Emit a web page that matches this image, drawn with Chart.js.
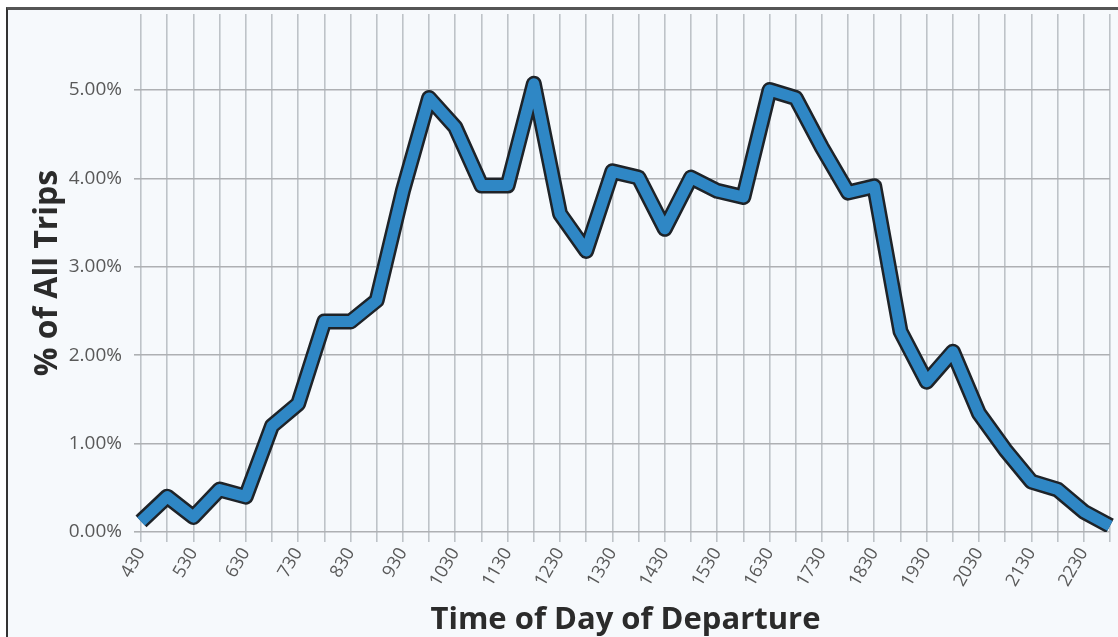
<!DOCTYPE html>
<html>
<head>
<meta charset="utf-8">
<script src="https://cdn.jsdelivr.net/npm/chart.js@4/dist/chart.umd.min.js"></script>
<style>
  html, body { margin: 0; padding: 0; background: #fff; overflow: hidden; width: 1118px; height: 637px; }
  #frame { position: absolute; left: 6px; top: 7px; width: 1200px; height: 700px;
           border-left: 2px solid #333; border-top: 3px solid #555; background: #F6F9FC; }
  #wrap { position: absolute; left: 0; top: 0; width: 1118px; height: 660px; }
</style>
</head>
<body>
<div id="frame"></div>
<div id="wrap"><canvas id="tripsChart" width="1118" height="660"></canvas></div>
<script>
/* === DATA === */
const times = ['430','500','530','600','630','700','730','800','830','900','930','1000','1030','1100',
  '1130','1200','1230','1300','1330','1400','1430','1500','1530','1600','1630','1700','1730','1800',
  '1830','1900','1930','2000','2030','2100','2130','2200','2230','2300'];
const tripShare = [0.12, 0.40, 0.17, 0.48, 0.40, 1.20, 1.45, 2.38, 2.38, 2.62, 3.86, 4.91, 4.58, 3.92,
  3.92, 5.07, 3.60, 3.18, 4.08, 4.01, 3.43, 4.01, 3.86, 3.79, 5.00, 4.91, 4.35, 3.84,
  3.91, 2.27, 1.70, 2.04, 1.34, 0.93, 0.57, 0.48, 0.23, 0.07];
const yTicks = [0, 1, 2, 3, 4, 5];

initChart();

function initChart() {
    const ctx = document.getElementById('tripsChart');
    new Chart(ctx, {
        type: 'line',
        data: {
            labels: times,
            datasets: [{
                // blue line on top
                data: tripShare,
                borderColor: '#2F87C5',
                borderWidth: 11,
                pointRadius: 0,
                tension: 0,
                borderJoinStyle: 'round',
                borderCapStyle: 'butt',
                order: 0
            }, {
                // dark outline behind
                data: tripShare,
                borderColor: '#1E2328',
                borderWidth: 16,
                pointRadius: 0,
                tension: 0,
                borderJoinStyle: 'round',
                borderCapStyle: 'butt',
                order: 1
            }]
        },
        options: {
            responsive: false,
            animation: false,
            devicePixelRatio: 1,
            layout: { padding: { top: 14, right: 8, bottom: 0, left: 0 } },
            plugins: { legend: { display: false }, tooltip: { enabled: false } },
            scales: {
                x: {
                    offset: false,
                    grid: { color: '#BEC3C8', lineWidth: 1.6, tickLength: 10, drawTicks: true },
                    border: { display: false },
                    ticks: {
                        autoSkip: false,
                        maxRotation: 60,
                        minRotation: 60,
                        padding: 2,
                        color: '#595959',
                        font: { family: 'Open Sans', size: 18 },
                        callback: (v, i) => i % 2 === 0 ? times[i] : ''
                    },
                    title: {
                        display: true,
                        text: 'Time of Day of Departure',
                        color: '#2B2B2B',
                        font: { family: 'Open Sans', size: 31, weight: 'bold' },
                        padding: { top: 0, bottom: 21 }
                    },
                    afterFit: s => { s.height = 128; s.paddingLeft = 0; s.paddingRight = 0; }
                },
                y: {
                    min: 0,
                    max: 5.86,
                    grid: { color: '#AEB0B3', lineWidth: 1.6, tickLength: 7 },
                    border: { display: false },
                    afterBuildTicks: s => { s.ticks = yTicks.map(v => ({ value: v })); },
                    ticks: {
                        padding: 12,
                        color: '#595959',
                        font: { family: 'Open Sans', size: 19 },
                        callback: v => v.toFixed(2) + '%'
                    },
                    title: {
                        display: true,
                        text: '% of All Trips',
                        color: '#2B2B2B',
                        font: { family: 'Open Sans', size: 32, weight: 'bold' },
                        padding: { top: 29, bottom: 0 }
                    },
                    afterFit: s => { s.width = 141; s.paddingTop = 0; s.paddingBottom = 0; }
                }
            }
        }
    });
}
</script>
</body>
</html>
